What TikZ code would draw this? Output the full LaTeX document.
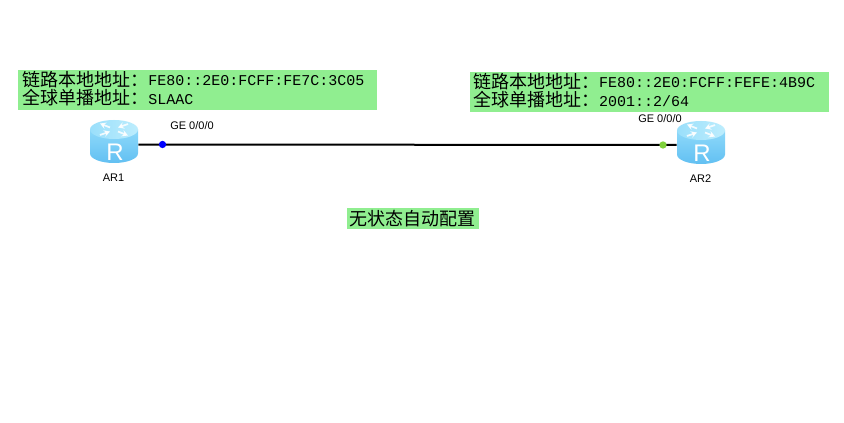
\documentclass[tikz,border=0pt]{standalone}
\usepackage{fontspec}
\setmainfont{Liberation Sans}
\newfontfamily\cjk{Noto Sans CJK SC}
\newfontfamily\mono{Liberation Mono}
\usetikzlibrary{arrows.meta}
\definecolor{notegreen}{HTML}{90EE90}
\definecolor{dotgreen}{HTML}{7FD13B}
\definecolor{bodyL}{HTML}{8ED9FA}
\definecolor{bodyM}{HTML}{9FE3FC}
\definecolor{bodyR}{HTML}{62C0F2}
\definecolor{topL}{HTML}{9ADFFB}
\definecolor{topR}{HTML}{BDEDFD}
\newcommand{\cn}[1]{{\cjk\fontsize{13.5pt}{13.5pt}\selectfont #1}}
\newcommand{\lat}[1]{{\mono\fontsize{11.25pt}{13.5pt}\selectfont\raisebox{0.6pt}{#1}}}
\newcommand{\routericon}[2]{%
  \begin{scope}[shift={(#1,#2)}]
    \shade[left color=bodyL,middle color=bodyM,right color=bodyR,shading angle=0]
      (-24,-12) -- (-24,12) arc[start angle=180,end angle=0,x radius=24,y radius=9.5] -- (24,-12) -- cycle;
    \shade[left color=topL,right color=topR] (0,-12) ellipse[x radius=24,y radius=9.5];
    \begin{scope}[white,opacity=0.85,line width=1.3pt,-{Stealth[length=4.5pt,width=5pt]}]
      \draw (-4,-14) -- (-14,-18);
      \draw (14,-17.5) -- (4,-14);
      \draw (-14,-6.5) -- (-4,-10);
      \draw (4,-10) -- (14,-6);
    \end{scope}
    \node[white,inner sep=0pt,font=\fontsize{18pt}{18pt}\selectfont] at (1,11) {R};
  \end{scope}}
\tikzset{
  x=0.75pt,y=-0.75pt,
  notebox/.style={fill=notegreen,inner sep=0pt,align=left},
  routerbox/.style={inner sep=0pt,minimum width=36pt,minimum height=28pt},
  devlabel/.style={inner sep=0pt,font=\fontsize{8.25pt}{9pt}\selectfont},
  portdot/.style={circle,inner sep=0pt,minimum size=5.5pt},
  linkline/.style={draw=black,line width=1.5pt}
}
\begin{document}
\begin{tikzpicture}
\useasboundingbox[fill=white] (0,0) rectangle (844,423);
\node[notebox,text width=266.25pt,minimum height=30pt,inner xsep=1.5pt,anchor=north west] (noteA) at (18,70)
  {\baselineskip=13pt\hspace*{1.5pt}\cn{链路本地地址：}\lat{FE80::2E0:FCFF:FE7C:3C05}\par\hspace*{1.5pt}\cn{全球单播地址：}\lat{SLAAC}\vspace{2pt}};
\node[notebox,text width=266.25pt,minimum height=30pt,inner xsep=1.5pt,anchor=north west] (noteB) at (469.5,72)
  {\baselineskip=13pt\hspace*{1pt}\cn{链路本地地址：}\lat{FE80::2E0:FCFF:FEFE:4B9C}\par\hspace*{1pt}\cn{全球单播地址：}\lat{2001::2/64}\vspace{2pt}};
\node[notebox,minimum width=99pt,minimum height=15.75pt] (noteC) at (413,218.5) {\cn{无状态自动配置}\kern1.5pt};
\node[routerbox] (AR1) at (114,144.5) {};
\node[routerbox] (AR2) at (701,145) {};
\draw[linkline] (AR1) -- (AR2);
\routericon{114}{141.5}
\routericon{701}{142.5}
\node[devlabel] (lblAR1) at (113.5,177.5) {AR1};
\node[devlabel] (lblAR2) at (700.5,178.5) {AR2};
\node[devlabel] (portA) at (192,125.5) {GE 0/0/0};
\node[devlabel] (portB) at (660,118.5) {GE 0/0/0};
\node[portdot,fill=blue] (dotA) at (162.5,144.5) {};
\node[portdot,fill=dotgreen] (dotB) at (663,145) {};
\end{tikzpicture}
\end{document}
